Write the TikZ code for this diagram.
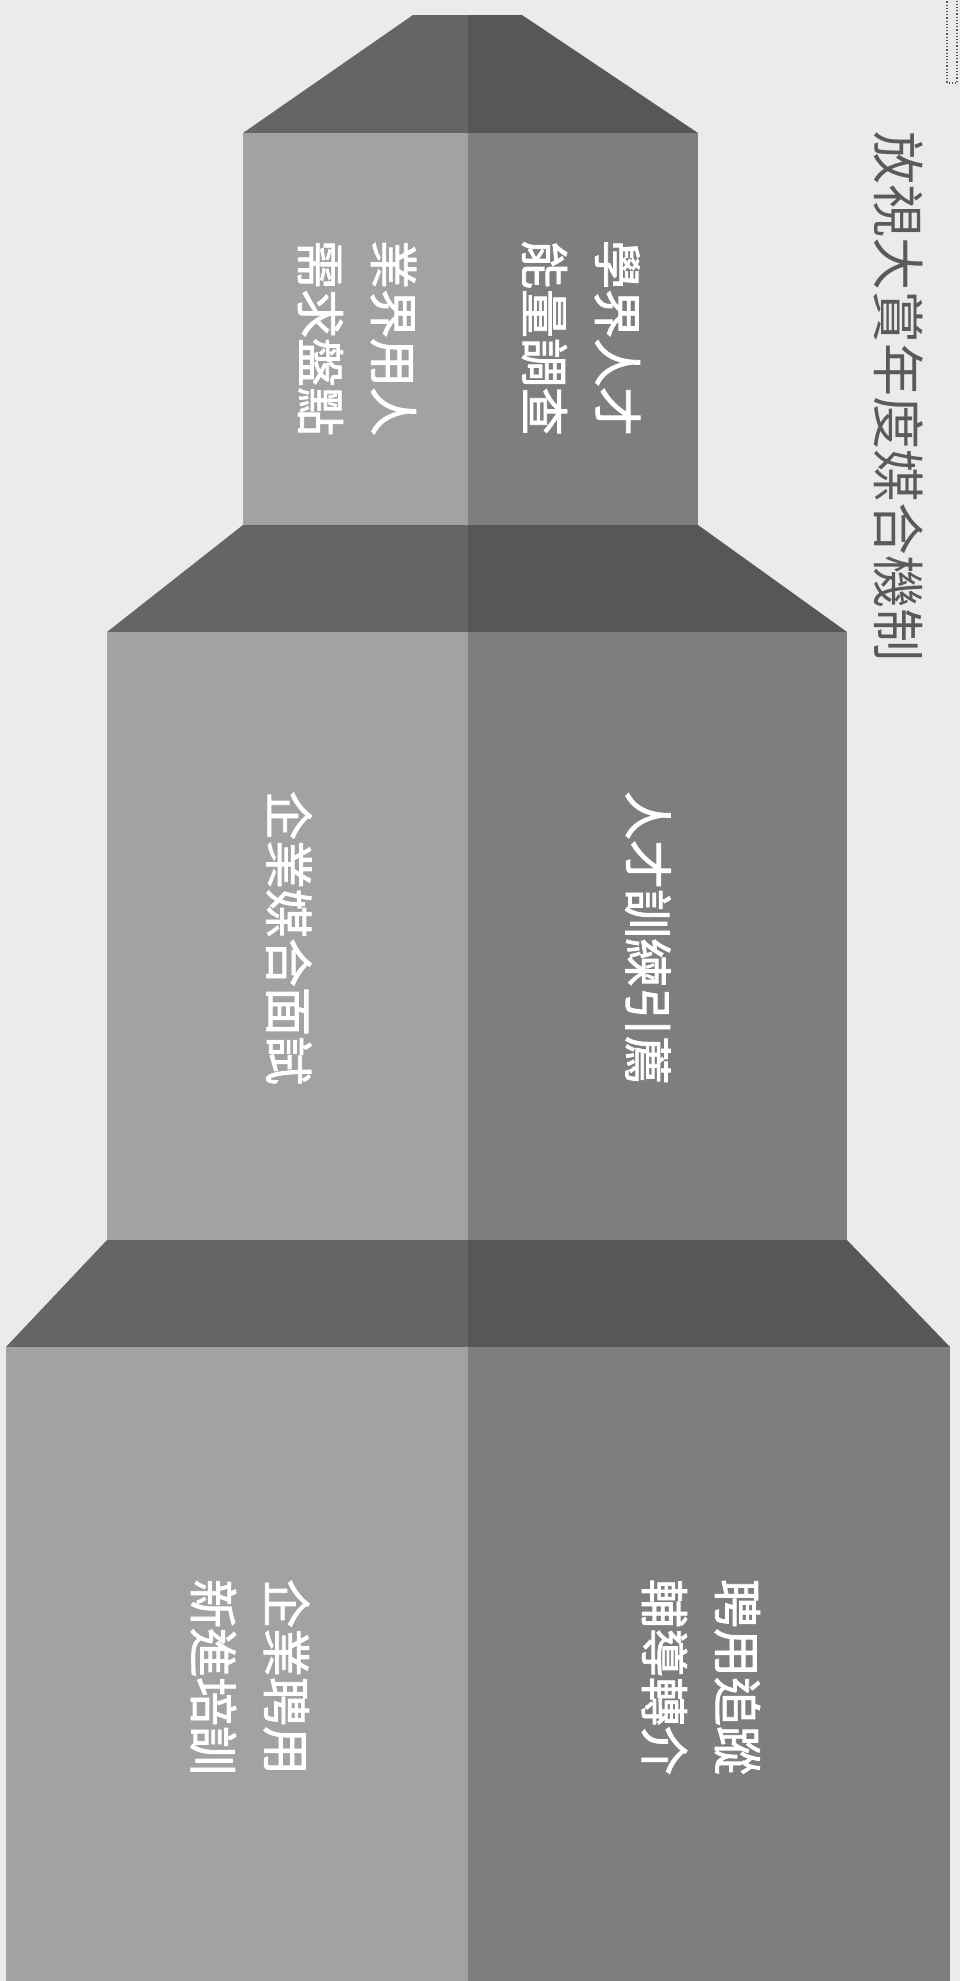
\documentclass[tikz,border=0pt]{standalone}
\usepackage{fontspec}
\newfontfamily\cjk{Noto Sans CJK TC}
\newfontfamily\cjkbold[FakeBold=1.6]{Noto Sans CJK TC}
\definecolor{bgc}{HTML}{EBEBEB}
\definecolor{lightface}{HTML}{A2A2A2}
\definecolor{darkface}{HTML}{7E7E7E}
\definecolor{bevelL}{HTML}{656565}
\definecolor{bevelR}{HTML}{575757}
\definecolor{titlec}{HTML}{5A5A5A}
\tikzset{
  lightpart/.style={fill=lightface},
  darkpart/.style={fill=darkface},
  bevelleft/.style={fill=bevelL},
  bevelright/.style={fill=bevelR},
  boxtext/.style={text=white, align=center, rotate=-90, inner sep=0pt,
    font=\cjkbold\fontsize{24.5pt}{36.5pt}\selectfont},
  titletext/.style={text=titlec, rotate=-90, inner sep=0pt,
    font=\cjk\fontsize{26.5pt}{30pt}\selectfont}
}
\begin{document}
\begin{tikzpicture}[x=0.5pt,y=-0.5pt]
\useasboundingbox (0,0) rectangle (960,1981);
\fill[bgc] (0,0) rectangle (960,1981);
% tier 1
\fill[bevelleft]  (413,15) -- (468,15) -- (468,133) -- (243,133) -- cycle;
\fill[bevelright] (468,15) -- (522,15) -- (698,133) -- (468,133) -- cycle;
\fill[lightpart] (243,133) rectangle (468,525);
\fill[darkpart]  (468,133) rectangle (698,525);
% tier 2
\fill[bevelleft]  (243,525) -- (468,525) -- (468,632) -- (107,632) -- cycle;
\fill[bevelright] (468,525) -- (698,525) -- (847,632) -- (468,632) -- cycle;
\fill[lightpart] (107,632) rectangle (468,1240);
\fill[darkpart]  (468,632) rectangle (847,1240);
% tier 3
\fill[bevelleft]  (107,1240) -- (468,1240) -- (468,1347) -- (6,1347) -- cycle;
\fill[bevelright] (468,1240) -- (847,1240) -- (950,1347) -- (468,1347) -- cycle;
\fill[lightpart] (6,1347) rectangle (468,1981);
\fill[darkpart]  (468,1347) rectangle (950,1981);
% texts
\node[boxtext] (t1r) at (581,338) {學界人才\\能量調查};
\node[boxtext] (t1l) at (357,338) {業界用人\\需求盤點};
\node[boxtext] (t2r) at (648,938) {人才訓練引薦};
\node[boxtext] (t2l) at (289,938) {企業媒合面試};
\node[boxtext] (t3r) at (701,1677) {聘用追蹤\\輔導轉介};
\node[boxtext] (t3l) at (250,1677) {企業聘用\\新進培訓};
\node[titletext] (title) at (899,396) {放視大賞年度媒合機制};
\draw[titlec, densely dotted, line width=0.6pt] (947,-5) rectangle (957,83);
\end{tikzpicture}
\end{document}
